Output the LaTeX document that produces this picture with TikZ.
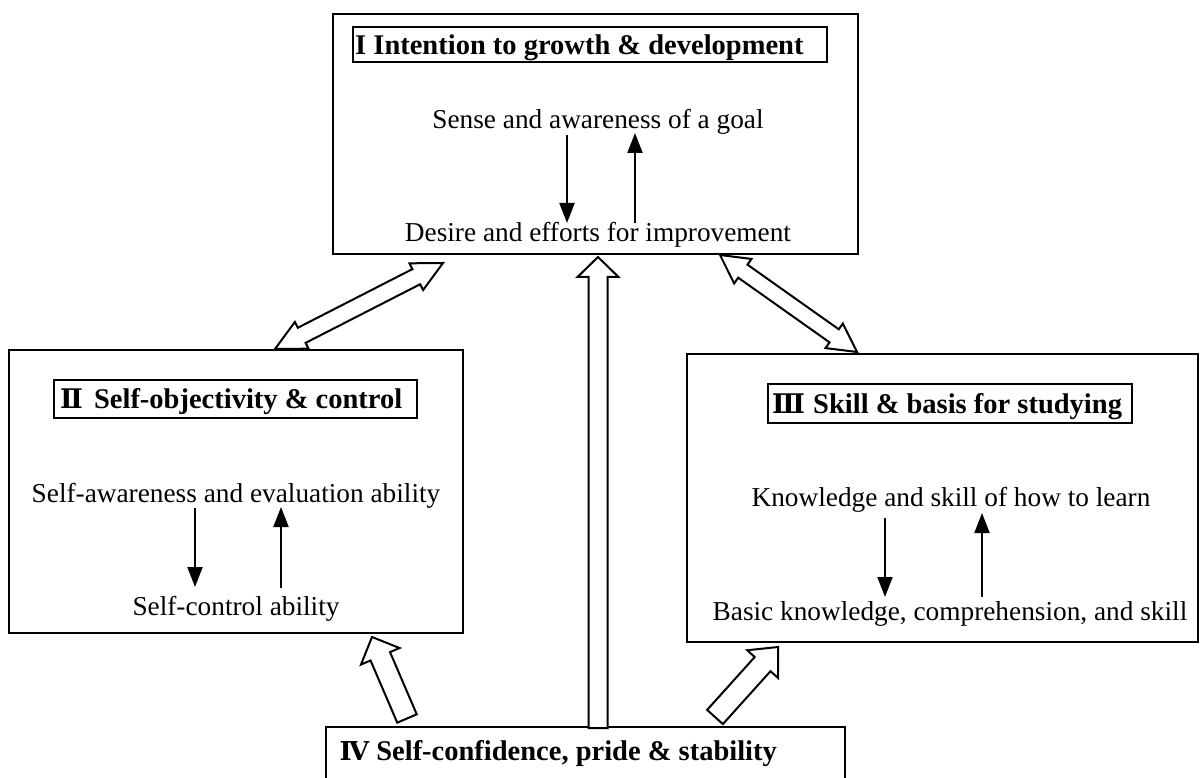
\documentclass[tikz,border=0pt]{standalone}
\usepackage{fontspec}
\setmainfont{Liberation Serif}
\newfontfamily\rnum{DejaVu Serif}
\usetikzlibrary{calc,fit,arrows.meta}
\newcommand\sarrow[5]{% tail, tip, shaft half, head half, head length
  \coordinate (ba-s) at ($(#2)!#5!(#1)$);
  \draw[blockarrow] ($(#1)!#3!90:(#2)$) -- ($(ba-s)!#3!90:(#2)$) -- ($(ba-s)!#4!90:(#2)$) -- (#2)
    -- ($(ba-s)!#4!-90:(#2)$) -- ($(ba-s)!#3!-90:(#2)$) -- ($(#1)!#3!-90:(#2)$) -- cycle;
}
\newcommand\darrow[5]{% end, end, shaft half, head half, head length
  \coordinate (ba-s) at ($(#2)!#5!(#1)$);
  \coordinate (ba-t) at ($(#1)!#5!(#2)$);
  \draw[blockarrow] (#1) -- ($(ba-t)!#4!90:(#2)$) -- ($(ba-t)!#3!90:(#2)$) -- ($(ba-s)!#3!90:(#2)$)
    -- ($(ba-s)!#4!90:(#2)$) -- (#2) -- ($(ba-s)!#4!-90:(#2)$) -- ($(ba-s)!#3!-90:(#2)$)
    -- ($(ba-t)!#3!-90:(#2)$) -- ($(ba-t)!#4!-90:(#2)$) -- cycle;
}
\begin{document}
\begin{tikzpicture}[x=1pt,y=-1pt,
  box/.style={draw, line width=2pt, inner sep=0pt},
  tbox/.style={draw, line width=1.8pt, inner sep=0pt},
  ttl/.style={font=\fontsize{28.5pt}{34pt}\selectfont\bfseries, anchor=base west, inner sep=0pt},
  txt/.style={font=\fontsize{27.3pt}{32pt}\selectfont, anchor=base, inner sep=0pt},
  thinarr/.style={line width=2pt, -{Triangle[width=15pt,length=20pt]}},
  blockarrow/.style={draw, fill=white, line width=2pt, line join=miter},
]
\useasboundingbox (0,0) rectangle (1200,778);
\clip (0,0) rectangle (1200,778);

% Box I
\node[box, fit={(333,14) (858,254)}] (I) {};
\node[tbox, fit={(353,27) (827,62)}] (It) {};
\node[ttl] (Ittl) at (355,55) {I Intention to growth \& development};
\node[txt] (I1) at (598,129) {Sense and awareness of a goal};
\node[txt] (I2) at (598,242) {Desire and efforts for improvement};
\coordinate (ia1) at (567,135); \coordinate (ia2) at (567,223);
\coordinate (ib1) at (635,223); \coordinate (ib2) at (635,133);
\draw[thinarr] (ia1) -- (ia2);
\draw[thinarr] (ib1) -- (ib2);

% Box II
\node[box, fit={(9,350) (463,633)}] (II) {};
\node[tbox, fit={(54,380) (417,418)}] (IIt) {};
\node[ttl] (IIttl) at (60,408) {{\rnum\fontsize{27pt}{30pt}\selectfont Ⅱ}\hspace{4pt} Self-objectivity \& control};
\node[txt] (II1) at (236,502) {Self-awareness and evaluation ability};
\node[txt] (II2) at (236,615) {Self-control ability};
\coordinate (iia1) at (195,508); \coordinate (iia2) at (195,587);
\coordinate (iib1) at (281,588); \coordinate (iib2) at (281,507);
\draw[thinarr] (iia1) -- (iia2);
\draw[thinarr] (iib1) -- (iib2);

% Box III
\node[box, fit={(687,354) (1198,642)}] (III) {};
\node[tbox, fit={(768,384) (1132,423)}] (IIIt) {};
\node[ttl] (IIIttl) at (772,413) {{\rnum\fontsize{27pt}{30pt}\selectfont Ⅲ}\hspace{1pt} Skill \& basis for studying};
\node[txt] (III1) at (951,506) {Knowledge and skill of how to learn};
\node[txt] (III2) at (950,620) {Basic knowledge, comprehension, and skill};
\coordinate (iiia1) at (885,518); \coordinate (iiia2) at (885,597);
\coordinate (iiib1) at (982,597); \coordinate (iiib2) at (982,513);
\draw[thinarr] (iiia1) -- (iiia2);
\draw[thinarr] (iiib1) -- (iiib2);

% Box IV
\node[box, fit={(326,727) (845,800)}] (IV) {};
\node[ttl] (IVttl) at (339.5,760) {{\rnum\fontsize{26pt}{30pt}\selectfont Ⅳ} Self-confidence, pride \& stability};

% block arrows
\coordinate (v1) at (598,728); \coordinate (v2) at (598,257);
\sarrow{v1}{v2}{9.5pt}{20.5pt}{20pt}
\coordinate (l1) at (275,349); \coordinate (l2) at (443,263);
\darrow{l1}{l2}{8.5pt}{15pt}{30pt}
\coordinate (r1) at (857,352); \coordinate (r2) at (720,255);
\darrow{r1}{r2}{8pt}{15pt}{28pt}
\coordinate (b1) at (407,718.5); \coordinate (b2) at (372,637);
\sarrow{b1}{b2}{10.6pt}{21pt}{21pt}
\coordinate (c1) at (715,717); \coordinate (c2) at (778,647);
\sarrow{c1}{c2}{10.6pt}{20.7pt}{23pt}
\end{tikzpicture}
\end{document}
